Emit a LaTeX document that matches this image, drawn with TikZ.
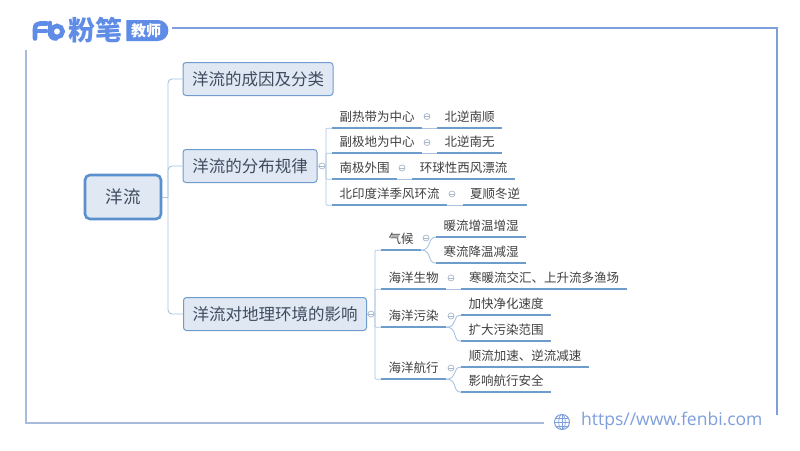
\documentclass[tikz,border=0pt]{standalone}
\usepackage{fontspec}
\setmainfont{Noto Sans CJK SC}
\newfontfamily\urlfont{Open Sans}
\usetikzlibrary{shapes.misc}
\definecolor{boxline}{HTML}{6F9BCF}
\definecolor{boxfill}{HTML}{DFE8F3}
\definecolor{rootline}{HTML}{5B90CF}
\definecolor{twigline}{HTML}{A9C4E2}
\definecolor{foldline}{HTML}{A8B8CC}
\definecolor{leafline}{HTML}{6E9CCB}
\definecolor{framecol}{HTML}{7F9FDC}
\definecolor{framesoft}{HTML}{A9BBDC}
\definecolor{logocol}{HTML}{5F8CE6}
\definecolor{boxtext}{HTML}{3F4C5E}
\definecolor{leaftext}{HTML}{404040}
\begin{document}
\begin{tikzpicture}[x=1pt, y=-1pt,
  rootbox/.style={draw=rootline, line width=2.6pt, fill=boxfill, rounded corners=5pt, inner sep=0pt, text=boxtext, font=\fontsize{17.5}{20}\selectfont},
  topicbox/.style={draw=boxline, line width=1pt, fill=boxfill, rounded corners=3pt, inner sep=0pt, minimum height=33pt, text=boxtext, font=\fontsize{16.5}{20}\selectfont},
  leaf/.style={inner sep=0pt, minimum height=22pt, text=leaftext, font=\fontsize{12.5}{15}\selectfont},
  fold/.style={circle, draw=foldline, line width=.7pt, fill=white, inner sep=0pt, minimum size=6pt, path picture={\draw[foldline, line width=.6pt] (path picture bounding box.west) -- (path picture bounding box.east);}},
  branch/.style={draw=twigline, line width=.9pt, rounded corners=4pt},
  twig/.style={draw=twigline, line width=.7pt, rounded corners=1pt},
  curvetwig/.style={draw=twigline, line width=.9pt},
  under/.style={draw=leafline, line width=1.7pt},
  frame/.style={draw=framecol, line width=1.5pt}]
\useasboundingbox (0,0) rectangle (800,450);
\fill[white] (0,0) rectangle (800,450);

% frame
\coordinate (framea) at (172,28);
\coordinate (frameb) at (777,28);
\coordinate (framec) at (777,415);
\coordinate (framed) at (26,50);
\coordinate (framee) at (26,423);
\coordinate (framef) at (544,423);
\draw[frame] (framea) -- (frameb) -- (framec);
\draw[frame, draw=framesoft] (framed) -- (framee) -- (framef);

% logo
\draw[logocol, line width=4.6pt, line cap=round, line join=round] (35,38.5) -- (35,29) .. controls (35,25) and (37,23.5) .. (40,23.5) -- (47,23.5);
\draw[logocol, line width=4.6pt, line cap=round] (35,31) -- (46,31);
\draw[logocol, line width=4.6pt, line cap=round] (50,23) -- (50,32);
\draw[logocol, line width=4.6pt] (57,31.5) circle (5.6pt);
\draw[logocol, line width=4.6pt, line cap=round] (50,32) .. controls (50,36) and (52,38.5) .. (56,38.5);
\node[text=logocol, inner sep=0pt, font=\fontsize{27}{28}\bfseries\selectfont] (brand) at (95,30.5) {粉笔};
\node[rounded rectangle, rounded rectangle west arc=none, fill=logocol, text=white, inner sep=0pt, minimum width=42pt, minimum height=21pt, font=\fontsize{15}{16}\bfseries\selectfont] (badge) at (146,30.5) {教师};

% main nodes
\node[rootbox, minimum width=76pt, minimum height=44pt] (current) at (123,197) {洋流};
\node[topicbox, minimum width=150pt] (cause) at (258,79) {洋流的成因及分类};
\node[topicbox, minimum width=134pt] (rule) at (250,166) {洋流的分布规律};
\node[topicbox, minimum width=183pt] (effect) at (275,314) {洋流对地理环境的影响};

% distribution
\node[leaf, minimum width=90pt] (ruleaa) at (377,117) {副热带为中心};
\node[fold] (rulefa) at (427,116.5) {};
\node[leaf, minimum width=65pt] (ruleab) at (469.5,117) {北逆南顺};
\node[leaf, minimum width=90pt] (ruleba) at (377,142) {副极地为中心};
\node[fold] (rulefb) at (427,142.5) {};
\node[leaf, minimum width=65pt] (rulebb) at (469.5,142) {北逆南无};
\node[leaf, minimum width=65pt] (ruleca) at (364.5,168) {南极外围};
\node[fold] (rulefc) at (402,168) {};
\node[leaf, minimum width=103pt] (rulecb) at (463.5,168) {环球性西风漂流};
\node[leaf, minimum width=115pt] (ruleda) at (389.5,194) {北印度洋季风环流};
\node[fold] (rulefd) at (452,194) {};
\node[leaf, minimum width=64pt] (ruledb) at (495,194) {夏顺冬逆};
\node[fold] (rulefold) at (322,166) {};
\coordinate (rulefork) at (326,166);

% effects
\node[leaf, minimum width=40pt] (climate) at (401,239) {气候};
\node[fold] (climatefold) at (426,238) {};
\node[leaf, minimum width=90pt] (warm) at (481,226) {暖流增温增湿};
\node[leaf, minimum width=90pt] (cold) at (481,252) {寒流降温减湿};
\node[leaf, minimum width=65pt] (life) at (413.5,278) {海洋生物};
\node[fold] (lifefold) at (451,278) {};
\node[leaf, minimum width=166pt] (fish) at (544,278) {寒暖流交汇、上升流多渔场};
\node[leaf, minimum width=65pt] (pollute) at (413.5,316) {海洋污染};
\node[fold] (pollutefold) at (451,316) {};
\node[leaf, minimum width=90pt] (clean) at (506,304) {加快净化速度};
\node[leaf, minimum width=90pt] (spread) at (506,330) {扩大污染范围};
\node[leaf, minimum width=65pt] (sail) at (413.5,368) {海洋航行};
\node[fold] (sailfold) at (451,368) {};
\node[leaf, minimum width=128pt] (speed) at (525,356) {顺流加速、逆流减速};
\node[leaf, minimum width=90pt] (safe) at (506,381) {影响航行安全};
\node[fold] (effectfold) at (371,314) {};
\coordinate (effectfork) at (375,314);

% root connectors
\coordinate (rootfork) at (168,197);
\draw[branch] (current.east) -- (rootfork);
\draw[branch] (cause.west) -| (rootfork);
\draw[branch] (rule.west) -| (rootfork);
\draw[branch] (effect.west) -| (rootfork);

% distribution connectors
\draw[twig] (rule.east) -- (rulefold);
\draw[twig] (rulefold) -- (rulefork);
\draw[twig] (ruleaa.south west) -| (rulefork);
\draw[twig] (ruleba.south west) -| (rulefork);
\draw[twig] (ruleca.south west) -| (rulefork);
\draw[twig] (ruleda.south west) -| (rulefork);
\draw[twig] (ruleaa.south east) -- (ruleab.south west);
\draw[twig] (ruleba.south east) -- (rulebb.south west);
\draw[twig] (ruleca.south east) -- (rulecb.south west);
\draw[twig] (ruleda.south east) -- (ruledb.south west);
\draw[under] (ruleaa.south west) -- (ruleaa.south east);
\draw[under] (ruleab.south west) -- (ruleab.south east);
\draw[under] (ruleba.south west) -- (ruleba.south east);
\draw[under] (rulebb.south west) -- (rulebb.south east);
\draw[under] (ruleca.south west) -- (ruleca.south east);
\draw[under] (rulecb.south west) -- (rulecb.south east);
\draw[under] (ruleda.south west) -- (ruleda.south east);
\draw[under] (ruledb.south west) -- (ruledb.south east);

% effect connectors
\draw[twig] (effect.east) -- (effectfold);
\draw[twig] (effectfold) -- (effectfork);
\draw[twig] (climate.south west) -| (effectfork);
\draw[twig] (life.south west) -| (effectfork);
\draw[twig] (pollute.south west) -| (effectfork);
\draw[twig] (sail.south west) -| (effectfork);
\draw[twig] (life.south east) -- (fish.south west);
\draw[curvetwig] (climate.south east) .. controls (432,250) and (427,237) .. (warm.south west);
\draw[curvetwig] (climate.south east) .. controls (432,250) and (427,263) .. (cold.south west);
\draw[curvetwig] (pollute.south east) .. controls (458,327) and (452,315) .. (clean.south west);
\draw[curvetwig] (pollute.south east) .. controls (458,327) and (452,341) .. (spread.south west);
\draw[curvetwig] (sail.south east) .. controls (458,379) and (452,367) .. (speed.south west);
\draw[curvetwig] (sail.south east) .. controls (458,379) and (452,392) .. (safe.south west);
\draw[under] (climate.south west) -- (climate.south east);
\draw[under] (warm.south west) -- (warm.south east);
\draw[under] (cold.south west) -- (cold.south east);
\draw[under] (life.south west) -- (life.south east);
\draw[under] (fish.south west) -- (fish.south east);
\draw[under] (pollute.south west) -- (pollute.south east);
\draw[under] (clean.south west) -- (clean.south east);
\draw[under] (spread.south west) -- (spread.south east);
\draw[under] (sail.south west) -- (sail.south east);
\draw[under] (speed.south west) -- (speed.south east);
\draw[under] (safe.south west) -- (safe.south east);

% footer
\draw[framecol, line width=1pt] (562,422) circle (7.5pt);
\draw[framecol, line width=.7pt] (562,422) ellipse (3.3pt and 7.5pt);
\draw[framecol, line width=.7pt] (562,414.5) -- (562,429.5);
\draw[framecol, line width=.7pt] (554.5,422) -- (569.5,422);
\draw[framecol, line width=.7pt] (555.5,418) -- (568.5,418);
\draw[framecol, line width=.7pt] (555.5,426) -- (568.5,426);
\node[text=framecol, inner sep=0pt, anchor=west, font=\urlfont\fontsize{17.5}{20}\selectfont] (site) at (581,421) {https//www.fenbi.com};
\end{tikzpicture}
\end{document}
